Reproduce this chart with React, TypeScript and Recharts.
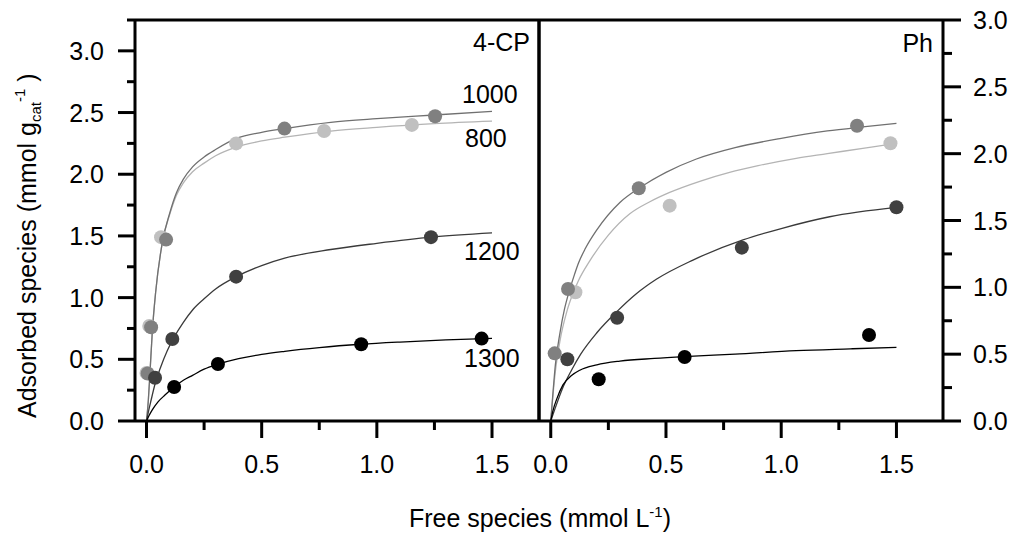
import React from 'react';
import { ComposedChart, Line, Scatter, XAxis, YAxis, ReferenceLine } from 'recharts';

const FONT = '"Liberation Sans", Arial, Helvetica, sans-serif';

// ticks
const xTicks = [0, 0.25, 0.5, 0.75, 1, 1.25, 1.5];
const yTicksCP = [0, 0.25, 0.5, 0.75, 1, 1.25, 1.5, 1.75, 2, 2.25, 2.5, 2.75, 3, 3.25];
const yTicksPh = [0, 0.25, 0.5, 0.75, 1, 1.25, 1.5, 1.75, 2, 2.25, 2.5, 2.75, 3];

// 4-CP panel, measured points [free, adsorbed]
const cp800 = [[0, 0.39], [0.012, 0.77], [0.063, 1.49], [0.389, 2.25], [0.771, 2.35], [1.152, 2.4]];
const cp1000 = [[0.005, 0.385], [0.02, 0.76], [0.085, 1.47], [0.599, 2.37], [1.253, 2.47]];
const cp1200 = [[0.037, 0.35], [0.112, 0.665], [0.389, 1.17], [1.235, 1.49]];
const cp1300 = [[0.12, 0.275], [0.31, 0.462], [0.932, 0.622], [1.455, 0.668]];

// 4-CP fitted curves
const cp800Fit = [[0, 0], [0.008, 0.17], [0.015, 0.39], [0.025, 0.72], [0.04, 1.05], [0.07, 1.46], [0.1, 1.67], [0.13, 1.83], [0.16, 1.93], [0.2, 2.02], [0.25, 2.09], [0.3, 2.15], [0.39, 2.22], [0.5, 2.27], [0.6, 2.3], [0.8, 2.35], [1.0, 2.38], [1.25, 2.41], [1.5, 2.43]];
const cp1000Fit = [[0, 0], [0.008, 0.17], [0.015, 0.39], [0.025, 0.72], [0.04, 1.05], [0.07, 1.46], [0.1, 1.68], [0.13, 1.85], [0.16, 1.96], [0.2, 2.06], [0.25, 2.14], [0.3, 2.2], [0.39, 2.29], [0.5, 2.34], [0.6, 2.37], [0.8, 2.42], [1.0, 2.45], [1.25, 2.48], [1.5, 2.51]];
const cp1200Fit = [[0, 0], [0.01, 0.09], [0.02, 0.17], [0.037, 0.3], [0.06, 0.43], [0.09, 0.57], [0.12, 0.68], [0.16, 0.8], [0.2, 0.9], [0.25, 0.99], [0.3, 1.07], [0.39, 1.17], [0.5, 1.26], [0.6, 1.32], [0.8, 1.39], [1.0, 1.44], [1.235, 1.49], [1.5, 1.525]];
const cp1300Fit = [[0, 0], [0.01, 0.04], [0.025, 0.09], [0.05, 0.155], [0.08, 0.21], [0.12, 0.275], [0.16, 0.33], [0.2, 0.37], [0.25, 0.42], [0.31, 0.46], [0.4, 0.505], [0.5, 0.54], [0.6, 0.565], [0.75, 0.595], [0.93, 0.622], [1.1, 0.64], [1.3, 0.657], [1.5, 0.67]];

// Ph panel, measured points
const ph800 = [[0.107, 0.963], [0.516, 1.611], [1.474, 2.078]];
const ph1000 = [[0.017, 0.506], [0.075, 0.988], [0.382, 1.741], [1.329, 2.209]];
const ph1200 = [[0.072, 0.462], [0.288, 0.773], [0.829, 1.297], [1.5, 1.599]];
const ph1300 = [[0.208, 0.312], [0.581, 0.479], [1.381, 0.643]];

// Ph fitted curves
const ph800Fit = [[0, 0], [0.01, 0.2], [0.02, 0.37], [0.04, 0.6], [0.07, 0.82], [0.1, 0.97], [0.12, 1.05], [0.17, 1.2], [0.25, 1.39], [0.343, 1.55], [0.43, 1.64], [0.516, 1.71], [0.65, 1.795], [0.776, 1.86], [0.9, 1.91], [1.065, 1.965], [1.2, 2.0], [1.354, 2.04], [1.47, 2.07]];
const ph1000Fit = [[0, 0], [0.01, 0.22], [0.02, 0.42], [0.04, 0.66], [0.06, 0.84], [0.08, 0.97], [0.1, 1.08], [0.12, 1.18], [0.15, 1.29], [0.2, 1.43], [0.3, 1.635], [0.386, 1.745], [0.5, 1.86], [0.632, 1.96], [0.8, 2.045], [1.0, 2.115], [1.2, 2.17], [1.354, 2.2], [1.5, 2.226]];
const ph1200Fit = [[0, 0], [0.02, 0.1], [0.05, 0.24], [0.09, 0.38], [0.13, 0.5], [0.2, 0.66], [0.288, 0.82], [0.37, 0.95], [0.458, 1.06], [0.617, 1.204], [0.834, 1.355], [1.0, 1.44], [1.21, 1.528], [1.5, 1.598]];
const ph1300Fit = [[0, 0], [0.01, 0.08], [0.025, 0.16], [0.053, 0.27], [0.09, 0.34], [0.126, 0.38], [0.2, 0.42], [0.3, 0.448], [0.45, 0.468], [0.6, 0.483], [0.8, 0.5], [1.065, 0.526], [1.3, 0.54], [1.5, 0.551]];

const COL = { t800: '#c0c0c0', t1000: '#808080', t1200: '#404040', t1300: '#000000' };
const LINE = { t800: '#b4b4b4', t1000: '#707070', t1200: '#3a3a3a', t1300: '#000000' };

const pts = (a: number[][]) => a.map(([x, y]) => ({ x, y }));
const isMajor = (v: number) => Math.abs(v * 2 - Math.round(v * 2)) < 1e-6;

const textStyle = { fontFamily: FONT, fontSize: 25, fill: '#000' };

function BottomTick(props: any) {
  const { x, y, payload } = props;
  const m = isMajor(payload.value);
  return (
    <g>
      <line x1={x} x2={x} y1={y} y2={y + (m ? 17 : 9)} stroke="#000" strokeWidth={3} />
      {m && (
        <text x={x} y={y + 52} textAnchor="middle" style={textStyle}>
          {payload.value.toFixed(1)}
        </text>
      )}
    </g>
  );
}

function LeftTick(props: any) {
  const { x, y, payload } = props;
  const m = isMajor(payload.value) && payload.value <= 3;
  return (
    <g>
      <line x1={x - (m ? 17 : 8)} x2={x} y1={y} y2={y} stroke="#000" strokeWidth={3} />
      {m && (
        <text x={x - 31} y={y + 9} textAnchor="end" style={textStyle}>
          {payload.value.toFixed(1)}
        </text>
      )}
    </g>
  );
}

function RightTick(props: any) {
  const { x, y, payload } = props;
  const m = isMajor(payload.value);
  return (
    <g>
      <line x1={x} x2={x + (m ? 18 : 9)} y1={y} y2={y} stroke="#000" strokeWidth={3} />
      {m && (
        <text x={x + 30} y={y + 9} textAnchor="start" style={textStyle}>
          {payload.value.toFixed(1)}
        </text>
      )}
    </g>
  );
}

const dot = (fill: string) => (p: any) => <circle cx={p.cx} cy={p.cy} r={7} fill={fill} />;

interface PanelProps {
  side: 'left' | 'right';
  xDomain: [number, number];
  yDomain: [number, number];
  yTicks: number[];
  fits: number[][][];
  points: number[][][];
}

const keys = ['t800', 't1000', 't1200', 't1300'] as const;

function Panel({ side, xDomain, yDomain, yTicks, fits, points }: PanelProps) {
  const margin =
    side === 'left'
      ? { top: 20, right: 479, bottom: 74, left: 75 }
      : { top: 20, right: 15, bottom: 74, left: 539 };
  return (
    <div style={{ position: 'absolute', left: 0, top: 0 }}>
      <ComposedChart width={1018} height={535} margin={margin}>
        <XAxis
          dataKey="x"
          type="number"
          domain={xDomain}
          allowDataOverflow
          ticks={xTicks}
          interval={0}
          tickSize={0}
          tickMargin={0}
          height={40}
          tick={(p: any) => <BottomTick {...p} />}
          axisLine={{ stroke: '#000', strokeWidth: 3 }}
        />
        <YAxis
          dataKey="y"
          type="number"
          orientation={side}
          domain={yDomain}
          allowDataOverflow
          ticks={yTicks}
          interval={0}
          tickSize={0}
          tickMargin={0}
          width={60}
          tick={(p: any) => (side === 'left' ? <LeftTick {...p} /> : <RightTick {...p} />)}
          axisLine={{ stroke: '#000', strokeWidth: 3 }}
        />
        <ReferenceLine y={yDomain[1]} stroke="#000" strokeWidth={3} ifOverflow="visible" />
        {side === 'left' ? (
          <ReferenceLine x={xDomain[1]} stroke="#000" strokeWidth={3} ifOverflow="visible" />
        ) : (
          <ReferenceLine x={xDomain[0]} stroke="#000" strokeWidth={3} ifOverflow="visible" />
        )}
        {keys.map((k, i) => (
          <Line
            key={'f' + k}
            data={pts(fits[i])}
            dataKey="y"
            type="monotone"
            stroke={LINE[k]}
            strokeWidth={1.3}
            dot={false}
            activeDot={false}
            isAnimationActive={false}
          />
        ))}
        {keys.map((k, i) => (
          <Scatter
            key={'p' + k}
            data={pts(points[i])}
            dataKey="y"
            fill={COL[k]}
            shape={dot(COL[k])}
            isAnimationActive={false}
          />
        ))}
      </ComposedChart>
    </div>
  );
}

export default function App() {
  return (
    <div style={{ position: 'absolute', left: 0, top: 0, width: 1018, height: 535, background: '#fff' }}>
      <Panel
        side="left"
        xDomain={[-0.05, 1.704]}
        yDomain={[0, 3.25]}
        yTicks={yTicksCP}
        fits={[cp800Fit, cp1000Fit, cp1200Fit, cp1300Fit]}
        points={[cp800, cp1000, cp1200, cp1300]}
      />
      <Panel
        side="right"
        xDomain={[-0.051, 1.702]}
        yDomain={[0, 3]}
        yTicks={yTicksPh}
        fits={[ph800Fit, ph1000Fit, ph1200Fit, ph1300Fit]}
        points={[ph800, ph1000, ph1200, ph1300]}
      />
      <svg
        width={1018}
        height={535}
        style={{ position: 'absolute', left: 0, top: 0, pointerEvents: 'none' }}
      >
        <g style={textStyle}>
          <text x={530} y={51} textAnchor="end">4-CP</text>
          <text x={933} y={52} textAnchor="end">Ph</text>
          <text x={462} y={103}>1000</text>
          <text x={465} y={147}>800</text>
          <text x={464} y={260}>1200</text>
          <text x={464} y={367}>1300</text>
          <text x={409} y={527}>
            Free species (mmol L<tspan fontSize={15} dy={-10}>-1</tspan>
            <tspan dy={10}>)</tspan>
          </text>
          <text transform="translate(36,418) rotate(-90)">
            Adsorbed species (mmol g<tspan fontSize={15} dy={5}>cat</tspan>
            <tspan fontSize={15} dy={-16}>-1</tspan>
            <tspan dy={11}> )</tspan>
          </text>
        </g>
      </svg>
    </div>
  );
}
